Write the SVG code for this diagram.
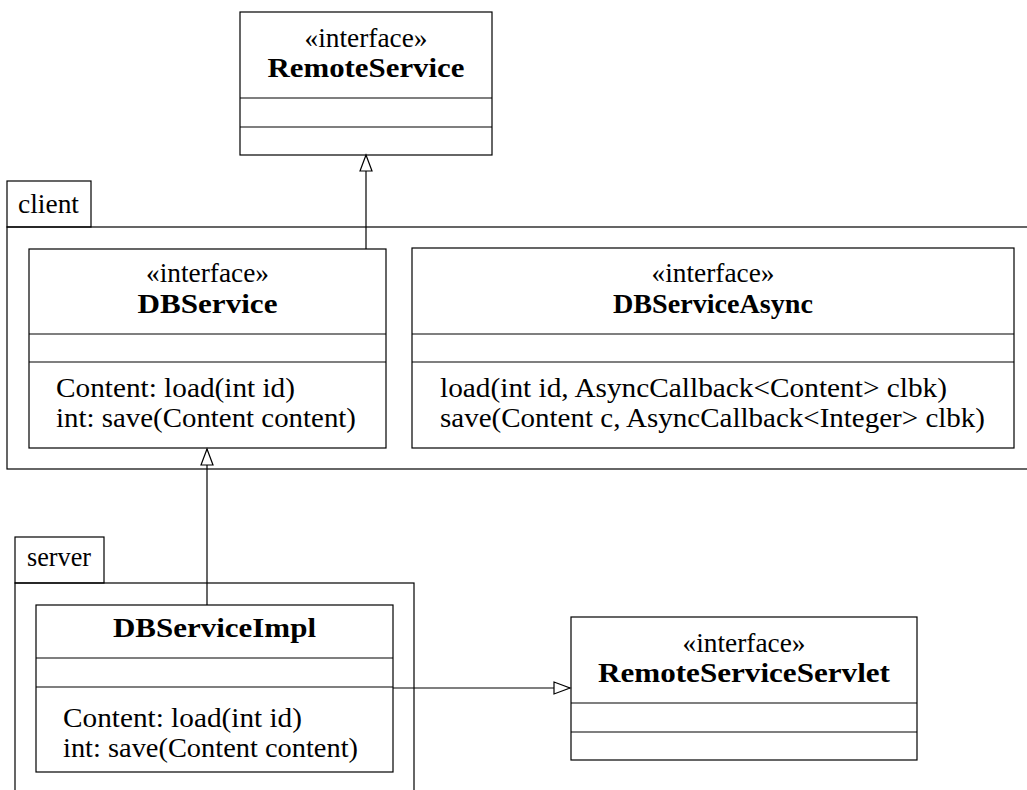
<svg xmlns="http://www.w3.org/2000/svg" width="1027" height="790" viewBox="0 0 1027 790">
  <style>
    .box { fill: #ffffff; stroke: #000000; stroke-width: 1.2; }
    .pkg { fill: none; stroke: #000000; stroke-width: 1.2; }
    .div { stroke: #000000; stroke-width: 1.2; }
    .edge { fill: none; stroke: #000000; stroke-width: 1.2; }
    text { font-family: "Liberation Serif", "DejaVu Serif", "Noto Serif", serif; font-size: 27px; fill: #000000; }
    .name { font-weight: bold; text-anchor: middle; }
    .stereo { text-anchor: middle; }
  </style>
  <defs>
    <marker id="realize" markerUnits="userSpaceOnUse" markerWidth="20" markerHeight="16" refX="17" refY="7" orient="auto">
      <path d="M1,1 L17,7 L1,13 Z" fill="#ffffff" stroke="#000000" stroke-width="1.2"/>
    </marker>
  </defs>
  <rect width="1027" height="790" fill="#ffffff"/>

  <!-- packages -->
  <g id="pkg-client">
    <rect class="pkg" x="7" y="181" width="84" height="46"/>
    <rect class="pkg" x="7" y="227" width="1040" height="242"/>
    <text x="18" y="213" textLength="61" lengthAdjust="spacingAndGlyphs">client</text>
  </g>
  <g id="pkg-server">
    <rect class="pkg" x="15" y="537" width="89" height="46"/>
    <rect class="pkg" x="15" y="583" width="399" height="230"/>
    <text x="27" y="566" textLength="64" lengthAdjust="spacingAndGlyphs">server</text>
  </g>

  <!-- classes -->
  <g id="RemoteService">
    <rect class="box" x="240" y="12" width="252" height="143"/>
    <line class="div" x1="240" y1="98" x2="492" y2="98"/>
    <line class="div" x1="240" y1="127" x2="492" y2="127"/>
    <text class="stereo" x="366" y="47" textLength="123" lengthAdjust="spacingAndGlyphs">«interface»</text>
    <text class="name" x="366" y="77" textLength="197" lengthAdjust="spacingAndGlyphs">RemoteService</text>
  </g>

  <g id="DBService">
    <rect class="box" x="29" y="249" width="357" height="199"/>
    <line class="div" x1="29" y1="334" x2="386" y2="334"/>
    <line class="div" x1="29" y1="362" x2="386" y2="362"/>
    <text class="stereo" x="207.5" y="282" textLength="123" lengthAdjust="spacingAndGlyphs">«interface»</text>
    <text class="name" x="207.5" y="313" textLength="140" lengthAdjust="spacingAndGlyphs">DBService</text>
    <text x="56" y="397" textLength="239" lengthAdjust="spacingAndGlyphs">Content: load(int id)</text>
    <text x="56" y="427" textLength="300" lengthAdjust="spacingAndGlyphs">int: save(Content content)</text>
  </g>

  <g id="DBServiceAsync">
    <rect class="box" x="412" y="248" width="602" height="200"/>
    <line class="div" x1="412" y1="334" x2="1014" y2="334"/>
    <line class="div" x1="412" y1="362" x2="1014" y2="362"/>
    <text class="stereo" x="713" y="282" textLength="123" lengthAdjust="spacingAndGlyphs">«interface»</text>
    <text class="name" x="713" y="313" textLength="200" lengthAdjust="spacingAndGlyphs">DBServiceAsync</text>
    <text x="440" y="397" textLength="507" lengthAdjust="spacingAndGlyphs">load(int id, AsyncCallback&lt;Content&gt; clbk)</text>
    <text x="440" y="427" textLength="545" lengthAdjust="spacingAndGlyphs">save(Content c, AsyncCallback&lt;Integer&gt; clbk)</text>
  </g>

  <g id="DBServiceImpl">
    <rect class="box" x="36" y="605" width="357" height="167"/>
    <line class="div" x1="36" y1="658" x2="393" y2="658"/>
    <line class="div" x1="36" y1="687" x2="393" y2="687"/>
    <text class="name" x="214.5" y="637" textLength="203" lengthAdjust="spacingAndGlyphs">DBServiceImpl</text>
    <text x="63" y="727" textLength="239" lengthAdjust="spacingAndGlyphs">Content: load(int id)</text>
    <text x="63" y="757" textLength="295" lengthAdjust="spacingAndGlyphs">int: save(Content content)</text>
  </g>

  <g id="RemoteServiceServlet">
    <rect class="box" x="571" y="617" width="346" height="143"/>
    <line class="div" x1="571" y1="703" x2="917" y2="703"/>
    <line class="div" x1="571" y1="732" x2="917" y2="732"/>
    <text class="stereo" x="744" y="652" textLength="123" lengthAdjust="spacingAndGlyphs">«interface»</text>
    <text class="name" x="744" y="682" textLength="292" lengthAdjust="spacingAndGlyphs">RemoteServiceServlet</text>
  </g>

  <!-- realization connectors -->
  <g id="connectors">
    <line class="edge" x1="366" y1="249" x2="366" y2="155" marker-end="url(#realize)"/>
    <line class="edge" x1="207" y1="605" x2="207" y2="449" marker-end="url(#realize)"/>
    <line class="edge" x1="393" y1="688" x2="570" y2="688" marker-end="url(#realize)"/>
  </g>
</svg>
